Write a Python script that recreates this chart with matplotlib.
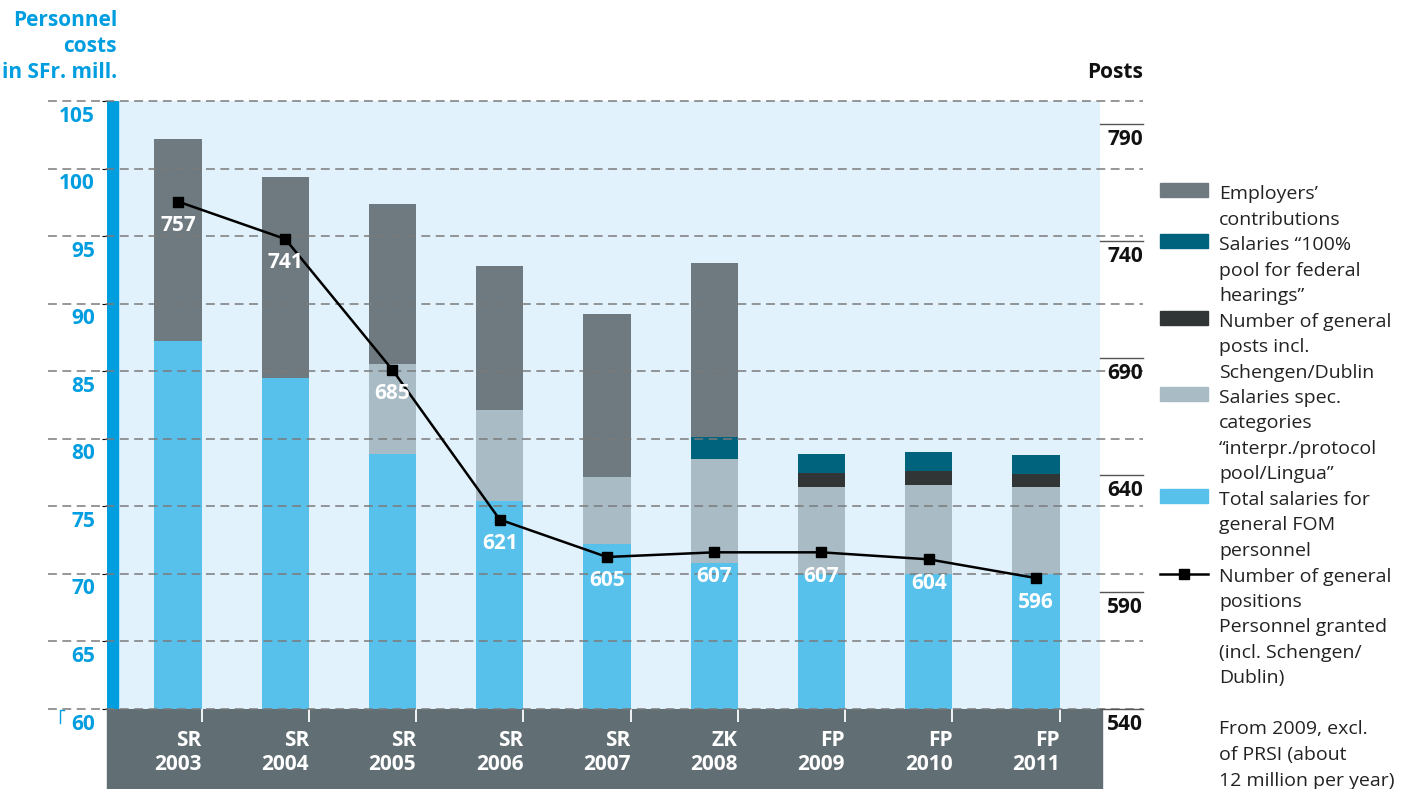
import matplotlib
matplotlib.use("Agg")
import matplotlib.pyplot as plt
from matplotlib.patches import Rectangle
from matplotlib.lines import Line2D
import numpy as np

plt.rcParams['font.family'] = ['Open Sans', 'DejaVu Sans']

# budget basis and year for each column
budgets = ["SR", "SR", "SR", "SR", "SR", "ZK", "FP", "FP", "FP"]
years = ["2003", "2004", "2005", "2006", "2007", "2008", "2009", "2010", "2011"]

# personnel costs in SFr. mill., stacked bottom to top
salaries_fom = [87.2, 84.5, 78.9, 75.4, 72.2, 70.8, 70.0, 70.0, 70.0]
spec_categories = [0, 0, 6.6, 6.7, 5.0, 7.7, 6.4, 6.6, 6.4]
schengen_dublin = [0, 0, 0, 0, 0, 0, 1.1, 1.0, 1.0]
pool_hearings = [0, 0, 0, 0, 0, 1.6, 1.4, 1.4, 1.4]
employers = [15.0, 14.9, 11.9, 10.7, 12.0, 12.9, 0, 0, 0]

# granted posts (right axis)
posts = [757, 741, 685, 621, 605, 607, 607, 604, 596]

cost_ticks = [60, 65, 70, 75, 80, 85, 90, 95, 100, 105]
post_ticks = [540, 590, 640, 690, 740, 790]

legend_labels = [
    "Employers’\ncontributions",
    "Salaries “100%\npool for federal\nhearings”",
    "Number of general\nposts incl.\nSchengen/Dublin",
    "Salaries spec.\ncategories\n“interpr./protocol\npool/Lingua”",
    "Total salaries for\ngeneral FOM\npersonnel",
    "Number of general\npositions\nPersonnel granted\n(incl. Schengen/\nDublin)",
]
footnote = "From 2009, excl.\nof PRSI (about\n12 million per year)"

C_EMPL = "#6e7a80"
C_POOL = "#00637e"
C_SCHENGEN = "#323535"
C_SPEC = "#a9bcc6"
C_FOM = "#58c1eb"
BG = "#e1f2fc"
STRIP = "#009ddf"
BAND = "#616e73"
CYAN = "#009ee0"
TEXT = "#222222"

W, H = 1413, 789
fig = plt.figure(figsize=(W / 100, H / 100), dpi=100)


def fx(px):
    return px / W


def fy(py):
    return 1 - py / H


AX_L, AX_R, AX_T, AX_B = 107, 1100, 101, 709
ax = fig.add_axes([fx(AX_L), fy(AX_B), (AX_R - AX_L) / W, (AX_B - AX_T) / H])
ax.set_facecolor(BG)
for s in ax.spines.values():
    s.set_visible(False)

x = np.arange(len(years))
ax.set_xlim(-0.662, 8.597)
ax.set_ylim(60, 105)

# dark blue strip along the left edge
ax.add_patch(Rectangle((0, 0), 11 / (AX_R - AX_L), 1, transform=ax.transAxes,
                       color=STRIP, zorder=1))

# stacked bars
stack = [(salaries_fom, C_FOM), (spec_categories, C_SPEC), (schengen_dublin, C_SCHENGEN),
         (pool_hearings, C_POOL), (employers, C_EMPL)]
bottom = np.zeros(len(years))
for vals, color in stack:
    vals = np.array(vals, dtype=float)
    ax.bar(x, vals, 0.44, bottom=bottom, color=color, zorder=2)
    bottom += vals

# dashed grid running past both sides of the plot
gx0 = (48 - AX_L) / (AX_R - AX_L)
gx1 = (1143 - AX_L) / (AX_R - AX_L)
for v in cost_ticks:
    ax.plot([gx0, gx1], [v, v], transform=ax.get_yaxis_transform(), clip_on=False,
            color="#7a7a7a", lw=1.1, dashes=(5.8, 3.6), zorder=3)
    ax.annotate(str(v), xy=(0, v), xycoords=ax.get_yaxis_transform(),
                xytext=(-12, -15), textcoords="offset pixels", ha="right", va="center",
                color=CYAN, fontsize=15, fontweight="bold", annotation_clip=False)

ax.tick_params(axis="y", left=False, labelleft=False)
ax.set_xticks(x + 0.22, [f"{b}\n{y}" for b, y in zip(budgets, years)])
ax.tick_params(axis="x", direction="out", length=9, width=1.3, color="white",
               labelcolor="white", labelsize=15, pad=6)
for lbl in ax.get_xticklabels():
    lbl.set_fontweight("bold")
    lbl.set_ha("right")
    lbl.set_multialignment("right")
    lbl.set_linespacing(1.2)

# grey band under the plot holding the year labels
fig.patches.append(Rectangle((fx(AX_L), 0), (1102 - AX_L) / W, (H - AX_B) / H,
                             transform=fig.transFigure, color=BAND, zorder=-1))

# posts on the right axis
ax2 = ax.twinx()
ax2.set_ylim(540, 800)
ax2.axis("off")
ax2.plot(x, posts, color="black", lw=1.8, marker="s", ms=7, zorder=4)
for xi, p in zip(x, posts):
    ax2.annotate(str(p), (xi, p), xytext=(0, -24), textcoords="offset pixels",
                 ha="center", va="center", color="white", fontsize=15,
                 fontweight="bold", zorder=5)
for v in post_ticks:
    ax2.plot([1, gx1], [v, v], transform=ax2.get_yaxis_transform(), clip_on=False,
             color="#555555", lw=1)
    ax2.annotate(str(v), xy=(gx1, v), xycoords=ax2.get_yaxis_transform(),
                 xytext=(0, -15), textcoords="offset pixels", ha="right", va="center",
                 color="#111111", fontsize=15, fontweight="bold", annotation_clip=False)

# axis titles
for i, line in enumerate(["Personnel", "costs", "in SFr. mill."]):
    fig.text(fx(117), fy(20 + 26 * i), line, ha="right", va="center",
             color=CYAN, fontsize=15, fontweight="bold")
fig.text(fx(1143), fy(72), "Posts", ha="right", va="center",
         color="#111111", fontsize=15, fontweight="bold")

# small mark next to the 60 label
fig.add_artist(Line2D([fx(60), fx(60), fx(64)], [fy(723), fy(710), fy(710)],
                      color=CYAN, lw=1))

# legend, one text line every 25.5 px
pitch = 25.5
y = 192
swatches = [C_EMPL, C_POOL, C_SCHENGEN, C_SPEC, C_FOM, None]
for label, color in zip(legend_labels, swatches):
    if color is not None:
        fig.patches.append(Rectangle((fx(1160), fy(y + 5)), 48 / W, 14 / H,
                                     transform=fig.transFigure, color=color))
    else:
        fig.add_artist(Line2D([fx(1160), fx(1208)], [fy(y - 1), fy(y - 1)],
                              color="black", lw=1.8))
        fig.add_artist(Line2D([fx(1184)], [fy(y - 1)], color="black",
                              marker="s", ms=6.5))
    for line in label.split("\n"):
        fig.text(fx(1219), fy(y + 7), line, ha="left", va="baseline",
                 color=TEXT, fontsize=14)
        y += pitch

y += pitch
for line in footnote.split("\n"):
    fig.text(fx(1219), fy(y + 7), line, ha="left", va="baseline",
             color=TEXT, fontsize=14)
    y += pitch

fig.savefig("out.png", dpi=100)
